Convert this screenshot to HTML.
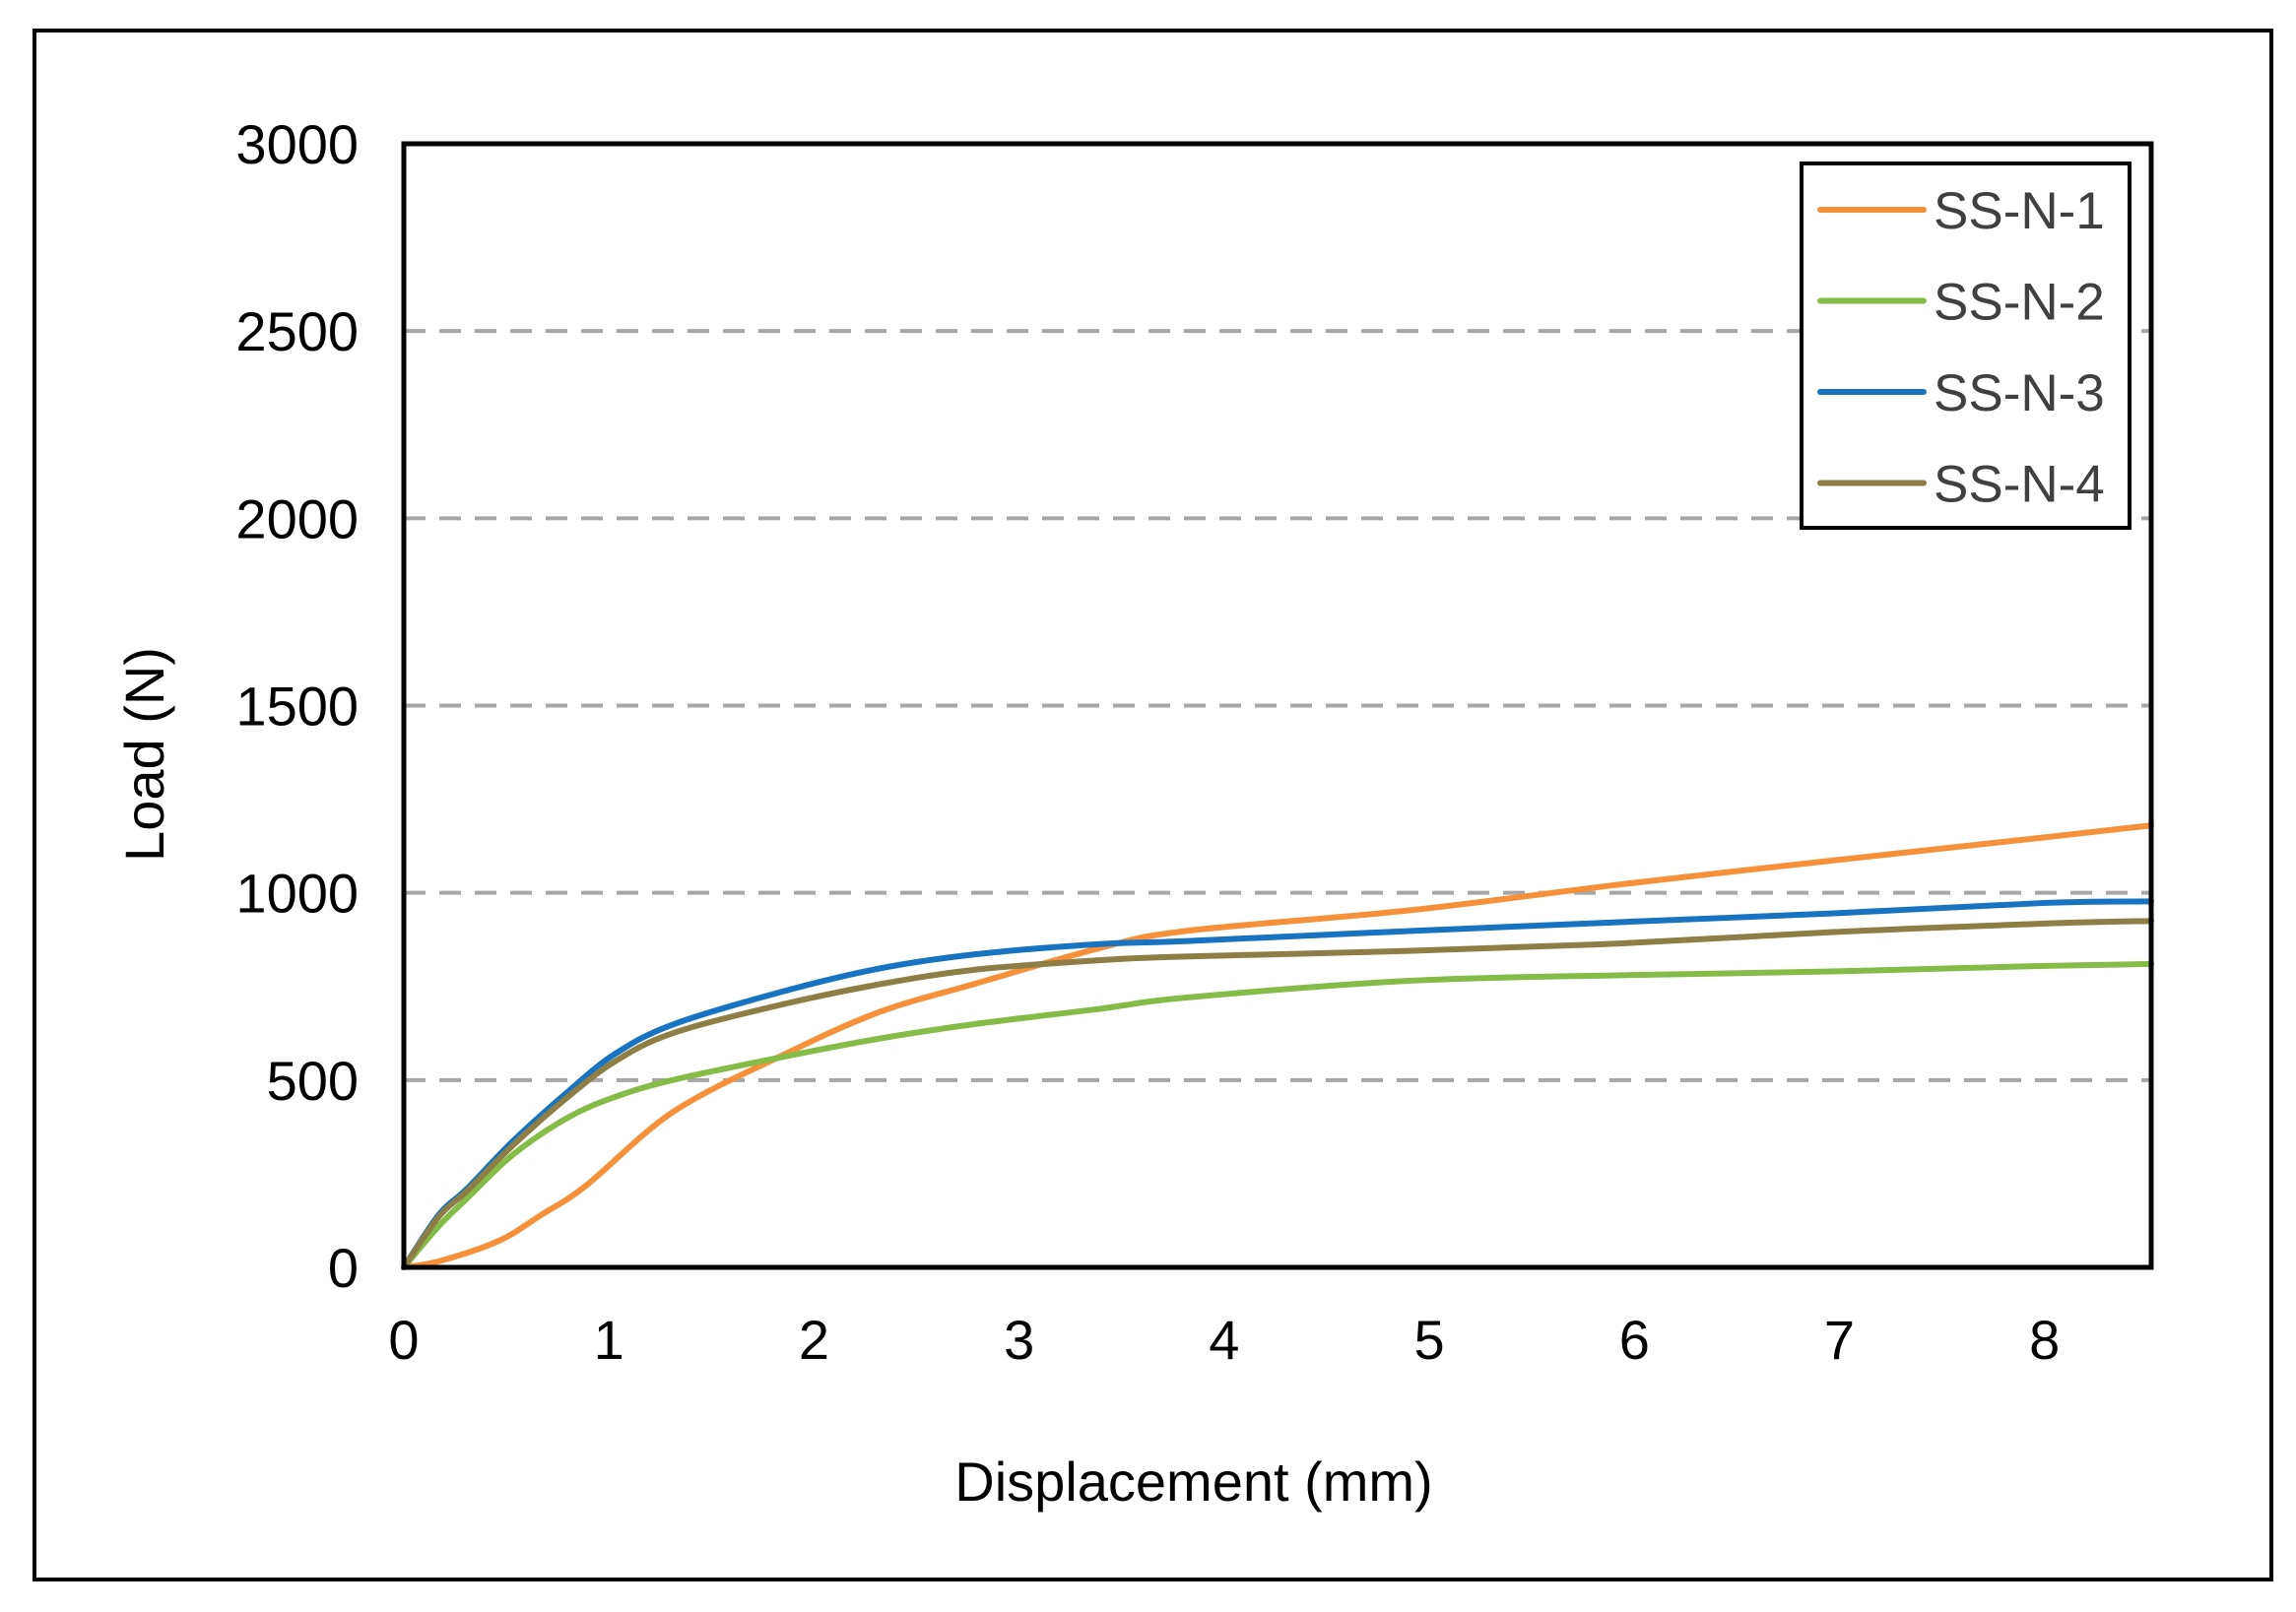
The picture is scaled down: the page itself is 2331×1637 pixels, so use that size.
<!DOCTYPE html>
<html><head><meta charset="utf-8"><style>
html,body{margin:0;padding:0;background:#fff}
svg{display:block}
text{font-family:"Liberation Sans",Arial,sans-serif}
</style></head><body>
<svg id="chart" width="2331" height="1637" viewBox="0 0 2331 1637" xmlns="http://www.w3.org/2000/svg">
<rect x="35" y="31" width="2271" height="1573" fill="#fff" stroke="#000" stroke-width="4"/>
<g id="grid"></g>
<g id="series"></g>
<rect x="410" y="146" width="1774" height="1141" fill="none" stroke="#000" stroke-width="5"/>
<g id="yticks"></g>
<g id="xticks"></g>
<text x="0" y="0" transform="translate(166,766) rotate(-90)" text-anchor="middle" font-size="56" fill="#000">Load (N)</text>
<text x="1212" y="1524" text-anchor="middle" font-size="56" fill="#000">Displacement (mm)</text>
<g id="legend">
<rect x="1829" y="166" width="333" height="370" fill="#fff" stroke="#000" stroke-width="4"/>
</g>
</svg>
<script>
const seriesNames = ["SS-N-1","SS-N-2","SS-N-3","SS-N-4"];
const seriesColors = ["#F7903A","#85BC47","#1874C0","#8C7E45"];
const yTicks = [0,500,1000,1500,2000,2500,3000];
const xTicks = [0,1,2,3,4,5,6,7,8];
const xs1 = [0,0.17,0.46,0.67,0.89,1.31,1.83,2.31,2.79,3.39,3.81,4.9,5.94,6.96,8,8.52];
const ys1 = [0,16,70,140,219,414,562,680,758,852,898,953,1023,1086,1148,1180];
const xs2 = [0,0.17,0.31,0.53,0.8,1.03,1.31,1.83,2.31,2.79,3.39,3.81,4.9,5.94,6.96,8,8.52];
const ys2 = [0,110,185,300,400,455,500,560,610,650,690,720,765,780,790,805,810];
const xs3 = [0,0.17,0.31,0.53,0.8,1.03,1.31,1.83,2.31,2.79,3.39,3.81,4.9,5.94,6.96,8,8.52];
const ys3 = [0,140,211,336,469,570,648,734,797,836,863,871,898,922,945,973,977];
const xs4 = [0,0.17,0.31,0.53,0.8,1.03,1.31,1.83,2.31,2.79,3.39,3.81,4.9,5.94,6.96,8,8.52];
const ys4 = [0,135,205,325,455,550,625,700,755,795,820,830,845,865,895,918,925];

const PL=410, PR=2184, PT=146, PB=1287, XMAX=8.52, YMAX=3000;
const NS="http://www.w3.org/2000/svg";
function sx(v){return PL+(v/XMAX)*(PR-PL);}
function sy(v){return PB-(v/YMAX)*(PB-PT);}
function mk(tag,attrs,parent){const e=document.createElementNS(NS,tag);for(const k in attrs)e.setAttribute(k,attrs[k]);parent.appendChild(e);return e;}

const grid=document.getElementById('grid'), yt=document.getElementById('yticks'), xt=document.getElementById('xticks');
yTicks.forEach(v=>{
  if(v>0&&v<YMAX){
    const l=mk('line',{x1:PL,x2:PR,y1:sy(v),y2:sy(v),stroke:'#A6A6A6','stroke-width':4,'stroke-dasharray':'22 14'},grid);
    
    
  }
  const t=mk('text',{x:364,y:sy(v)+20,'text-anchor':'end','font-size':56,fill:'#000'},yt);
  t.textContent=v;
  
  
});
xTicks.forEach(v=>{
  const t=mk('text',{x:sx(v),y:1380,'text-anchor':'middle','font-size':56,fill:'#000'},xt);
  t.textContent=v;
  
  
});
function pathFor(xs,ys){
  const p=xs.map((x,i)=>[sx(x),sy(ys[i])]);
  let d='M'+p[0][0]+','+p[0][1];
  for(let i=0;i<p.length-1;i++){
    const p0=p[i-1]||p[i],p1=p[i],p2=p[i+1],p3=p[i+2]||p2;
    const c1=[p1[0]+(p2[0]-p0[0])/6,p1[1]+(p2[1]-p0[1])/6];
    const c2=[p2[0]-(p3[0]-p1[0])/6,p2[1]-(p3[1]-p1[1])/6];
    d+=' C'+c1[0]+','+c1[1]+' '+c2[0]+','+c2[1]+' '+p2[0]+','+p2[1];
  }
  return d;
}
const data=[[xs1,ys1],[xs2,ys2],[xs3,ys3],[xs4,ys4]];
const sg=document.getElementById('series'), lg=document.getElementById('legend');
data.forEach((s,i)=>{
  const p=mk('path',{d:pathFor(s[0],s[1]),fill:'none',stroke:seriesColors[i],'stroke-width':6,'stroke-linejoin':'round','stroke-linecap':'round'},sg);
  
  
  const y=213+i*92.5;
  const l=mk('line',{x1:1848,x2:1953,y1:y,y2:y,stroke:seriesColors[i],'stroke-width':6,'stroke-linecap':'round'},lg);
  
  
  const t=mk('text',{x:1963,y:y+19,'font-size':53,fill:'#404040'},lg);
  t.textContent=seriesNames[i];
  
  
});
</script>
</body></html>
